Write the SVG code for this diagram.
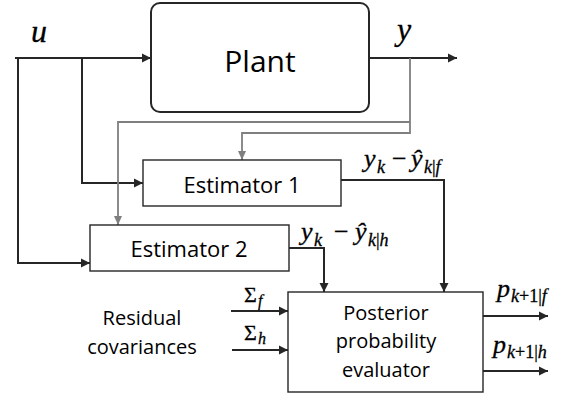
<svg xmlns="http://www.w3.org/2000/svg" width="576" height="399" viewBox="0 0 576 399">
<style>
.box{fill:#fff;stroke:#262626;stroke-width:1.4}
.plant{fill:#fff;stroke:#262626;stroke-width:2}
.lbl{font-family:"Open Sans","Liberation Sans",sans-serif;fill:#000;text-anchor:middle}
.w{fill:none;stroke:#262626;stroke-width:2}
.g{fill:none;stroke:#7f7f7f;stroke-width:1.8}
.m{font-family:"Liberation Serif","DejaVu Serif",serif;font-style:italic;fill:#000;stroke:#000;stroke-width:0.3}
.up{font-style:normal}
</style>
<defs>
<marker id="ad" markerUnits="userSpaceOnUse" markerWidth="10" markerHeight="10" refX="9" refY="5" orient="auto"><path d="M0,0.5 L9,5 L0,9.5 Z" fill="#262626"/></marker>
<marker id="ag" markerUnits="userSpaceOnUse" markerWidth="10" markerHeight="10" refX="9" refY="5" orient="auto"><path d="M0,1 L9,5 L0,9 Z" fill="#7f7f7f"/></marker>
</defs>
<g id="connectors">
<path class="w" d="M15,58 H151" marker-end="url(#ad)"/>
<path class="w" d="M82,58 V183 H143" marker-end="url(#ad)"/>
<path class="w" d="M18,58 V263 H90" marker-end="url(#ad)"/>
<path class="w" d="M369,58 H457" marker-end="url(#ad)"/>
<path class="g" d="M410,58 V133 H242 V160" marker-end="url(#ag)"/>
<path class="g" d="M410,122 H118 V225" marker-end="url(#ag)"/>
<path class="w" d="M341,180 H444 V292" marker-end="url(#ad)"/>
<path class="w" d="M289,248 H324 V292" marker-end="url(#ad)"/>
<path class="w" d="M231,311 H288" marker-end="url(#ad)"/>
<path class="w" d="M232,350 H288" marker-end="url(#ad)"/>
<path class="w" d="M483,316 H548" marker-end="url(#ad)"/>
<path class="w" d="M483,371 H548" marker-end="url(#ad)"/>
</g>
<g id="plant">
<rect class="plant" x="151" y="3" width="218" height="109" rx="9"/>
<text class="lbl" x="260" y="72" font-size="30">Plant</text>
</g>
<g id="estimator1">
<rect class="box" x="143" y="160" width="198" height="46"/>
<text class="lbl" x="242" y="193" font-size="22">Estimator 1</text>
</g>
<g id="estimator2">
<rect class="box" x="90" y="225" width="199" height="46"/>
<text class="lbl" x="189" y="257" font-size="22">Estimator 2</text>
</g>
<g id="evaluator">
<rect class="box" x="288" y="292" width="195" height="100"/>
<text class="lbl" x="386" y="320" font-size="20">Posterior</text>
<text class="lbl" x="386" y="348" font-size="20">probability</text>
<text class="lbl" x="386" y="377" font-size="20">evaluator</text>
</g>
<g id="residual-covariances">
<text class="lbl" x="142" y="325" font-size="20">Residual</text>
<text class="lbl" x="142" y="354" font-size="20">covariances</text>
</g>
<g id="labels">
<text class="m" x="31" y="42" font-size="32">u</text>
<text class="m" x="397" y="40" font-size="32">y</text>
<text class="m" font-size="26"><tspan x="364" y="167">y</tspan><tspan x="377" y="173" font-size="18">k</tspan><tspan class="up" x="392" y="167">−</tspan><tspan x="411" y="167">ŷ</tspan><tspan x="424" y="173" font-size="18">k<tspan class="up">|</tspan>f</tspan></text>
<text class="m" font-size="26"><tspan x="301" y="240">y</tspan><tspan x="314" y="246" font-size="18">k</tspan><tspan class="up" x="334" y="240">−</tspan><tspan x="355" y="240">ŷ</tspan><tspan x="368" y="246" font-size="18">k<tspan class="up">|</tspan>h</tspan></text>
<text class="m" font-size="26"><tspan x="497" y="297">p</tspan><tspan x="511" y="302" font-size="18">k<tspan class="up">+1|</tspan>f</tspan></text>
<text class="m" font-size="26"><tspan x="493" y="353">p</tspan><tspan x="507" y="358" font-size="18">k<tspan class="up">+1|</tspan>h</tspan></text>
<text class="m" font-size="22"><tspan class="up" x="244" y="302">Σ</tspan><tspan x="258" y="306" font-size="16">f</tspan></text>
<text class="m" font-size="22"><tspan class="up" x="244" y="340">Σ</tspan><tspan x="258" y="344" font-size="16">h</tspan></text>
</g>
</svg>
